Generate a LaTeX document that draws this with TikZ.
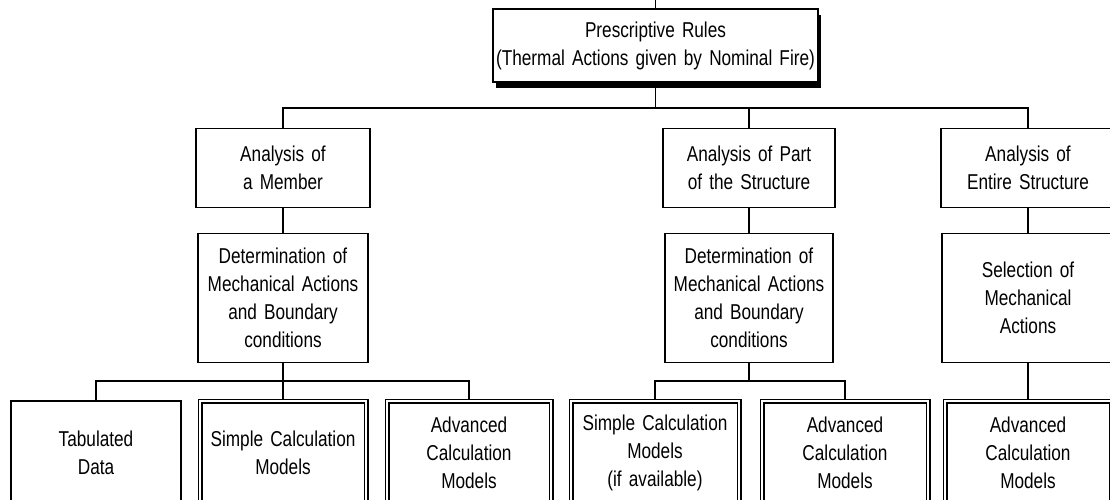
\documentclass[tikz,border=0pt]{standalone}
\usepackage{fontspec}
\setmainfont{Liberation Sans}[FakeStretch=0.8,WordSpace=0.75]
\usetikzlibrary{shadows}
\begin{document}
\begin{tikzpicture}[x=1pt,y=-1pt,
    box/.style={draw,fill=white,line width=1.6pt,align=center,inner sep=0pt,
      font=\fontsize{21.5}{28}\selectfont},
    dbox/.style={box,line width=1.1pt,double,double distance=2.8pt},
    link/.style={line width=1.3pt}]
  \path[use as bounding box,fill=white] (0,0) rectangle (1110,499);
  \draw
    (655.5,45.5) node[box,text width=325pt,minimum height=73pt,
      drop shadow={shadow xshift=3pt,shadow yshift=-6pt,fill=black,opacity=1}]
      (top){Prescriptive Rules\\(Thermal Actions given by Nominal Fire)}
    (283,168) node[box,text width=174pt,minimum height=79pt] (anmem){Analysis of\\a Member}
    (749,168) node[box,text width=172pt,minimum height=79pt] (anpart){Analysis of Part\\of the Structure}
    (1028,168) node[box,text width=174pt,minimum height=79pt] (anent){Analysis of\\Entire Structure}
    (283,298) node[box,text width=170pt,minimum height=129pt] (detmem){Determination of\\Mechanical Actions\\and Boundary\\conditions}
    (749,298) node[box,text width=168pt,minimum height=129pt] (detpart){Determination of\\Mechanical Actions\\and Boundary\\conditions}
    (1028,298) node[box,text width=172pt,minimum height=129pt] (selent){Selection of\\Mechanical\\Actions}
    (96,453) node[box,text width=170pt,minimum height=104pt] (tab){Tabulated\\Data}
    (283,453) node[dbox,text width=166pt,minimum height=104pt] (simmem){Simple Calculation\\Models}
    (469,453) node[dbox,text width=164pt,minimum height=104pt] (advmem){Advanced\\Calculation\\Models}
    (655,453) node[dbox,text width=168pt,minimum height=104pt] (simpart){Simple Calculation\\Models\\(if available)}
    (845,453) node[dbox,text width=166pt,minimum height=104pt] (advpart){Advanced\\Calculation\\Models}
    (1028,453) node[dbox,text width=166pt,minimum height=104pt] (advent){Advanced\\Calculation\\Models};
  \coordinate (in) at (655.5,0);
  \coordinate (bus0) at (655.5,108);
  \coordinate (bus1) at (283,381);
  \coordinate (bus2) at (749,381);
  \begin{scope}[link]
    \draw (in) to (top);
    \draw (top) to (bus0);
    \draw (bus0) -| (anmem);
    \draw (bus0) -| (anpart);
    \draw (bus0) -| (anent);
    \draw (anmem) to (detmem);
    \draw (anpart) to (detpart);
    \draw (anent) to (selent);
    \draw (detmem) to (bus1);
    \draw (bus1) -| (tab);
    \draw (bus1) -| (simmem);
    \draw (bus1) -| (advmem);
    \draw (detpart) to (bus2);
    \draw (bus2) -| (simpart);
    \draw (bus2) -| (advpart);
    \draw (selent) to (advent);
  \end{scope}
\end{tikzpicture}
\end{document}
